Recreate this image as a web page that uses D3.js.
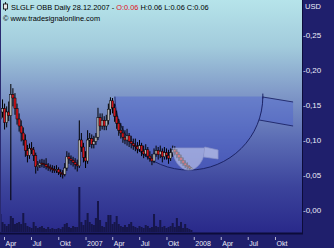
<!DOCTYPE html>
<html><head><meta charset="utf-8">
<script src="https://cdn.jsdelivr.net/npm/d3@7"></script>
<style>body{margin:0;background:#1f1f6c;}svg{display:block}</style>
</head><body><svg id="c" width="334" height="248"></svg>
<script>
// ---- data (weekly bars, Monday dates from 20.03.2006 to 24.12.2007) ----
const firstWeek = new Date(2006, 2, 20);
const lastWeek = new Date(2007, 11, 24);
const open  = [0.130,0.140,0.145,0.125,0.140,0.135,0.165,0.160,0.145,0.130,0.120,0.110,0.100,0.085,0.078,0.088,0.086,0.078,0.062,0.064,0.067,0.066,0.065,0.062,0.061,0.059,0.058,0.057,0.058,0.054,0.052,0.051,0.060,0.076,0.073,0.071,0.068,0.065,0.063,0.100,0.090,0.075,0.070,0.100,0.102,0.094,0.098,0.104,0.132,0.120,0.128,0.120,0.128,0.144,0.156,0.146,0.134,0.124,0.114,0.110,0.104,0.100,0.106,0.098,0.095,0.092,0.091,0.087,0.092,0.084,0.080,0.086,0.077,0.074,0.070,0.080,0.085,0.079,0.084,0.076,0.082,0.078,0.074,0.082,0.086,0.083,0.079,0.075,0.071,0.067,0.064,0.062,0.060];
const high  = [0.148,0.158,0.152,0.148,0.155,0.180,0.174,0.167,0.152,0.138,0.128,0.118,0.108,0.093,0.095,0.097,0.090,0.082,0.070,0.072,0.073,0.072,0.074,0.067,0.065,0.064,0.063,0.064,0.061,0.058,0.057,0.067,0.084,0.082,0.078,0.076,0.074,0.072,0.128,0.110,0.096,0.084,0.114,0.110,0.108,0.106,0.110,0.146,0.138,0.138,0.134,0.136,0.152,0.161,0.160,0.152,0.142,0.130,0.124,0.120,0.114,0.116,0.110,0.106,0.102,0.102,0.097,0.100,0.096,0.092,0.094,0.090,0.084,0.080,0.088,0.092,0.090,0.092,0.088,0.090,0.088,0.086,0.088,0.092,0.091,0.087,0.083,0.079,0.075,0.071,0.068,0.064,0.061];
const low   = [0.122,0.132,0.115,0.118,0.127,0.014,0.148,0.136,0.122,0.112,0.098,0.092,0.076,0.068,0.073,0.080,0.070,0.052,0.056,0.060,0.061,0.060,0.058,0.056,0.055,0.053,0.053,0.053,0.050,0.047,0.045,0.048,0.056,0.066,0.064,0.062,0.058,0.055,0.060,0.083,0.068,0.060,0.066,0.090,0.088,0.088,0.093,0.100,0.113,0.115,0.114,0.114,0.122,0.136,0.138,0.126,0.116,0.106,0.102,0.096,0.094,0.092,0.090,0.088,0.086,0.084,0.081,0.083,0.077,0.074,0.076,0.072,0.069,0.064,0.067,0.076,0.072,0.074,0.068,0.072,0.072,0.066,0.070,0.076,0.078,0.074,0.070,0.066,0.063,0.060,0.058,0.057,0.059];
const close = [0.140,0.145,0.125,0.140,0.135,0.165,0.160,0.145,0.130,0.120,0.110,0.100,0.085,0.078,0.088,0.086,0.078,0.062,0.064,0.067,0.066,0.065,0.062,0.061,0.059,0.058,0.057,0.058,0.054,0.052,0.051,0.060,0.076,0.073,0.071,0.068,0.065,0.063,0.100,0.090,0.075,0.070,0.100,0.102,0.094,0.098,0.104,0.132,0.120,0.128,0.120,0.128,0.144,0.156,0.146,0.134,0.124,0.114,0.110,0.104,0.100,0.106,0.098,0.095,0.092,0.091,0.087,0.092,0.084,0.080,0.086,0.077,0.074,0.070,0.080,0.085,0.079,0.084,0.076,0.082,0.078,0.074,0.082,0.086,0.083,0.079,0.075,0.071,0.067,0.064,0.062,0.060,0.060];
const volume = [18,10,8,6,8,16,14,8,9,10,8,19,9,6,5,4,10,6,4,5,6,4,3,5,3,4,3,3,4,3,5,8,9,5,4,6,5,5,45,10,7,12,19,10,8,7,14,31,12,6,5,10,17,17,8,10,16,8,6,5,7,5,8,10,6,5,4,6,5,4,7,6,4,5,18,6,5,12,5,6,4,5,6,9,5,14,6,10,4,8,4,3,2];

const yTicks = [0, 0.05, 0.10, 0.15, 0.20, 0.25];
const yTickLabels = ["0,00","0,05","0,10","0,15","0,20","0,25"];
const xTickDates = ["2006-04-01","2006-07-01","2006-10-01","2007-01-01","2007-04-01","2007-07-01","2007-10-01","2008-01-01","2008-04-01","2008-07-01","2008-10-01"];
const xTickLabels = ["Apr","Jul","Okt","2007","Apr","Jul","Okt","2008","Apr","Jul","Okt"];

// cup & handle pattern
const cupDates = [new Date(2007,3,10), new Date(2008,7,21)];
const cupRim = 0.162, cupBottom = 0.057;
const handleEnd = new Date(2008,11,1);
const handleTop = [0.1614, 0.1543];
const handleBottom = [0.1286, 0.120];
const smallCupDates = [new Date(2007,9,22), new Date(2008,1,7)];
const smallRim = 0.0886, smallBottom = 0.057;
const smallHandleEnd = new Date(2008,2,23);
const smallHandleTop = [0.090, 0.0857];
const smallHandleBottom = [0.0757, 0.0729];

// ---- drawing ----
const W = 334, H = 248, plotR = 302, plotB = 233;
const svg = d3.select("#c");
const weeks = d3.timeMonday.range(firstWeek, d3.timeDay.offset(lastWeek, 1));
const bars = weeks.map((d, i) => ({d, o: open[i], h: high[i], l: low[i], c: close[i], v: volume[i]}));

const x = d3.scaleTime().domain([new Date(2006,3,1), new Date(2008,9,1)]).range([4, 275]);
const y = d3.scaleLinear().domain([0, 0.25]).range([210, 35]);
const yv = d3.scaleLinear().domain([0, 50]).range([232, 182]);

const defs = svg.append("defs");
const g = defs.append("linearGradient").attr("id","bg").attr("x1",0).attr("y1",0).attr("x2",0).attr("y2",1);
[[0,"#b6e4ea"],[0.2,"#a2cbdc"],[0.4,"#8099c8"],[0.6,"#5b6cb4"],[0.8,"#3c449c"],[1,"#29298a"]].forEach(s=>g.append("stop").attr("offset",s[0]).attr("stop-color",s[1]));
defs.append("clipPath").attr("id","clip").append("rect").attr("x",1).attr("y",0).attr("width",plotR-1).attr("height",plotB-1);

svg.append("rect").attr("width",W).attr("height",H).attr("fill","#1f1f6c");
svg.append("rect").attr("x",0).attr("y",0).attr("width",plotR).attr("height",plotB).attr("fill","url(#bg)");

const plot = svg.append("g").attr("clip-path","url(#clip)");

// big cup
const cx1 = x(cupDates[0]), cx2 = x(cupDates[1]), cyR = y(cupRim), cyB = y(cupBottom);
const crx = (cx2-cx1)/2, cry = cyB-cyR, ccx = (cx1+cx2)/2;
plot.append("path").attr("d",`M${cx1},${cyR}A${crx},${cry} 0 0 0 ${cx2},${cyR}Z`).attr("fill","#4a5fd0").attr("fill-opacity",0.42);
// handle
const hx2 = x(handleEnd);
const hyB = y(handleBottom[0]);
const hxB = ccx + crx*Math.sqrt(Math.max(0,1-Math.pow((hyB-cyR)/cry,2)));
plot.append("path").attr("d",`M${cx2},${y(handleTop[0])}L${hx2},${y(handleTop[1])}L${hx2},${y(handleBottom[1])}L${hxB},${hyB}Z`).attr("fill","#4a5fd0").attr("fill-opacity",0.42);
plot.append("path").attr("d",`M${cx2},${y(handleTop[0])}L${hx2},${y(handleTop[1])}M${hxB},${hyB}L${hx2},${y(handleBottom[1])}`).attr("stroke","#1c2466").attr("fill","none").attr("stroke-width",0.9);
plot.append("path").attr("d",`M${cx1},${cyR}A${crx},${cry} 0 0 0 ${cx2},${cyR}M${cx2},${cyR-3}L${cx2},${cyR+2}`).attr("fill","none").attr("stroke","#1c2466").attr("stroke-width",1);

// volume
plot.append("g").selectAll("rect").data(bars).join("rect")
  .attr("x", d=>x(d.d)-1).attr("width",2)
  .attr("y", d=>yv(d.v)).attr("height", d=>yv(0)-yv(d.v))
  .attr("fill","#16164a");

// candles
const cg = plot.append("g");
cg.selectAll("line").data(bars).join("line")
  .attr("x1", d=>x(d.d)).attr("x2", d=>x(d.d))
  .attr("y1", d=>y(d.h)).attr("y2", d=>y(d.l))
  .attr("stroke","#000").attr("stroke-width",1);
cg.selectAll("rect").data(bars).join("rect")
  .attr("x", d=>x(d.d)-1.1).attr("width",2.2)
  .attr("y", d=>y(Math.max(d.o,d.c))).attr("height", d=>Math.max(1, Math.abs(y(d.o)-y(d.c))))
  .attr("fill", d=>d.c<d.o ? "#d4141a" : "#b4b4b4")
  .attr("stroke","#000").attr("stroke-width",0.5);

// small cup
const sx1 = x(smallCupDates[0]), sx2 = x(smallCupDates[1]), syR = y(smallRim), syB = y(smallBottom);
const srx = (sx2-sx1)/2, sry = syB-syR;
plot.append("path").attr("d",`M${sx1},${syR}A${srx},${sry} 0 0 0 ${sx2},${syR}Z`).attr("fill","#e4e8fa").attr("fill-opacity",0.5).attr("stroke","#8a92c8").attr("stroke-width",0.7);
const shx = x(smallHandleEnd);
plot.append("path").attr("d",`M${sx2},${y(smallHandleTop[0])}L${shx},${y(smallHandleTop[1])}L${shx},${y(smallHandleBottom[1])}L${sx2-1},${y(smallHandleBottom[0])}Z`).attr("fill","#e4e8fa").attr("fill-opacity",0.55).attr("stroke","#8a92c8").attr("stroke-width",0.7);

// borders
svg.append("line").attr("x1",0.5).attr("x2",0.5).attr("y1",0).attr("y2",plotB).attr("stroke","#2a2a70");
svg.append("line").attr("x1",plotR+0.5).attr("x2",plotR+0.5).attr("y1",0).attr("y2",plotB+1).attr("stroke","#0c0c3a");
svg.append("rect").attr("x",0).attr("y",plotB-0.5).attr("width",plotR+1).attr("height",2).attr("fill","#0c0c3a");

// y axis
const font = "Liberation Sans, Arial, sans-serif";
const ya = svg.append("g");
ya.selectAll("text").data(yTicks).join("text")
  .attr("x",303).attr("y",d=>y(d)+3).text((d,i)=>"-"+yTickLabels[i])
  .attr("font-family",font).attr("font-size",8).attr("fill","#ececf8");
svg.append("text").attr("x",305).attr("y",9).text("USD").attr("font-family",font).attr("font-size",7.5).attr("fill","#ececf8");

// x axis
const xa = svg.append("g");
xTickDates.forEach((s,i)=>{
  const p = s.split("-").map(Number);
  const xx = x(new Date(p[0],p[1]-1,p[2]));
  xa.append("line").attr("x1",xx+0.5).attr("x2",xx+0.5).attr("y1",237).attr("y2",240).attr("stroke","#e0e0f0").attr("stroke-width",0.8);
  xa.append("text").attr("x",xx+1.5).attr("y",246).text(xTickLabels[i]).attr("font-family",font).attr("font-size",7).attr("fill","#ececf8");
});

// title
svg.append("line").attr("x1",5.5).attr("x2",5.5).attr("y1",2).attr("y2",11).attr("stroke","#000").attr("stroke-width",0.8);
svg.append("rect").attr("x",3.5).attr("y",4).attr("width",4).attr("height",5).attr("fill","#e8e8e8").attr("stroke","#000").attr("stroke-width",0.8);
const t = svg.append("text").attr("x",11).attr("y",9.5).attr("font-family",font).attr("font-size",7.4).attr("fill","#000");
t.append("tspan").text("SLGLF OBB Daily  28.12.2007 - ");
t.append("tspan").attr("fill","#e0101a").text("O:0.06");
t.append("tspan").text(" H:0.06 L:0.06 C:0.06");
svg.append("text").attr("x",3).attr("y",21).attr("font-family",font).attr("font-size",7.4).attr("fill","#000").text("© www.tradesignalonline.com");
</script>
</body></html>
